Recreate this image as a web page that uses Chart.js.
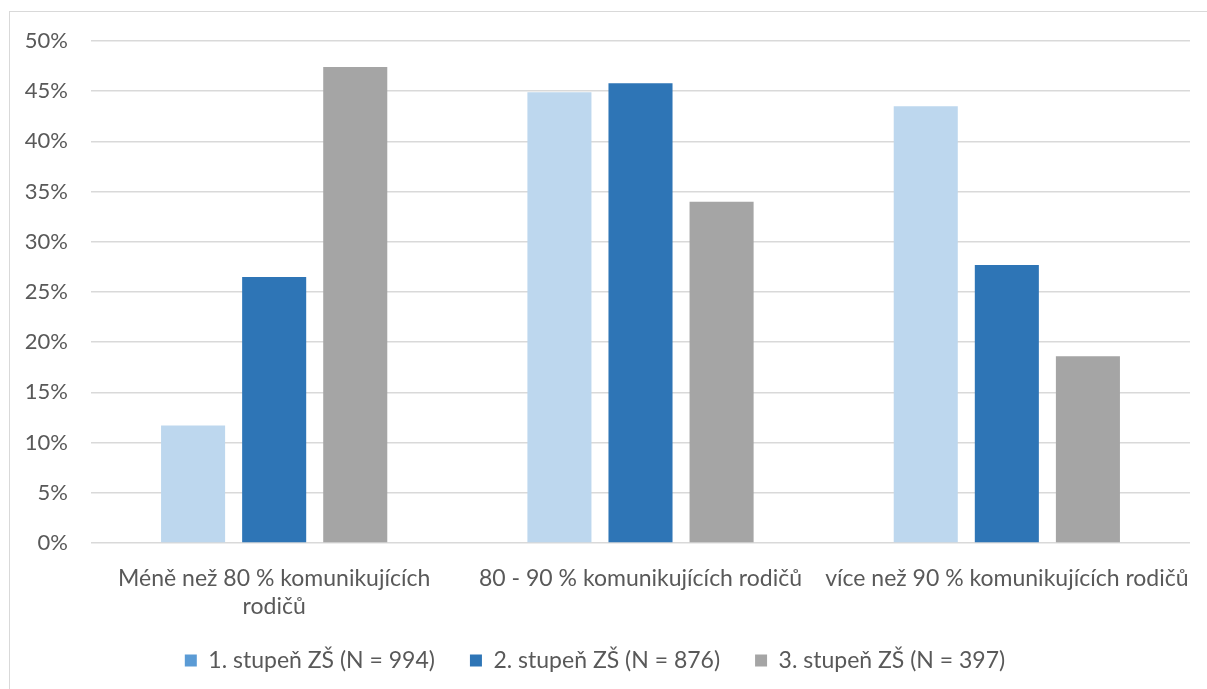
<!DOCTYPE html>
<html>
<head>
<meta charset="utf-8">
<script src="https://cdn.jsdelivr.net/npm/chart.js@4"></script>
<style>
  html, body { margin: 0; padding: 0; background: #fff; }
  #wrap { position: relative; width: 1207px; height: 689px; overflow: hidden; }
  #frame { position: absolute; left: 9px; top: 11px; width: 1300px; height: 800px; border-left: 1px solid #d9d9d9; border-top: 1px solid #d9d9d9; box-sizing: border-box; }
  canvas { position: absolute; left: 0; top: 0; }
</style>
</head>
<body>
<div id="wrap">
  <div id="frame"></div>
  <canvas id="c" width="1207" height="689"></canvas>
</div>
<script>
const categories = [
  ["Méně než 80 % komunikujících", "rodičů"],
  "80 - 90 % komunikujících rodičů",
  "více než 90 % komunikujících rodičů"
];
const seriesNames = ["1. stupeň ZŠ (N = 994)", "2. stupeň ZŠ (N = 876)", "3. stupeň ZŠ (N = 397)"];
const stupen1 = [11.7, 44.9, 43.5];
const stupen2 = [26.5, 45.8, 27.7];
const stupen3 = [47.4, 34.0, 18.6];
const barColors = ["#BDD7EE", "#2E75B6", "#A5A5A5"];
const legendColors = ["#5B9BD5", "#2E75B6", "#A5A5A5"];

const FONT = "Lato";
const TXT = "#595959";

new Chart(document.getElementById("c"), {
  type: "bar",
  data: {
    labels: categories,
    datasets: [stupen1, stupen2, stupen3].map((d, i) => ({
      label: seriesNames[i],
      data: d,
      backgroundColor: barColors[i],
      borderWidth: 0,
      categoryPercentage: 0.664,
      barPercentage: 0.79
    }))
  },
  options: {
    responsive: false,
    animation: false,
    devicePixelRatio: 1,
    layout: { padding: { left: 0, right: 17, top: 41, bottom: 7 } },
    plugins: {
      tooltip: { enabled: false },
      legend: {
        position: "bottom",
        labels: {
          font: { family: FONT, size: 23 },
          color: TXT,
          boxWidth: 12,
          boxHeight: 12,
          padding: 35,
          generateLabels: (chart) => chart.data.datasets.map((ds, i) => ({
            text: ds.label,
            fillStyle: legendColors[i],
            strokeStyle: legendColors[i],
            lineWidth: 0,
            fontColor: TXT,
            datasetIndex: i
          }))
        }
      }
    },
    scales: {
      x: {
        clip: false,
        grid: { display: false },
        border: { display: false },
        ticks: { font: { family: FONT, size: 23, lineHeight: 1.2 }, color: TXT, padding: 14, maxRotation: 0, autoSkip: false },
        afterFit: (s) => { s.height = 71; s.paddingLeft = 0; s.paddingRight = 0; }
      },
      y: {
        min: 0, max: 50,
        grid: { color: "#D9D9D9", lineWidth: 1.5, drawTicks: false },
        border: { display: false },
        ticks: { stepSize: 5, font: { family: FONT, size: 22 }, color: TXT, padding: 23, callback: v => v + "%" },
        afterFit: (s) => { s.width = 91; }
      }
    }
  }
});
</script>
</body>
</html>
